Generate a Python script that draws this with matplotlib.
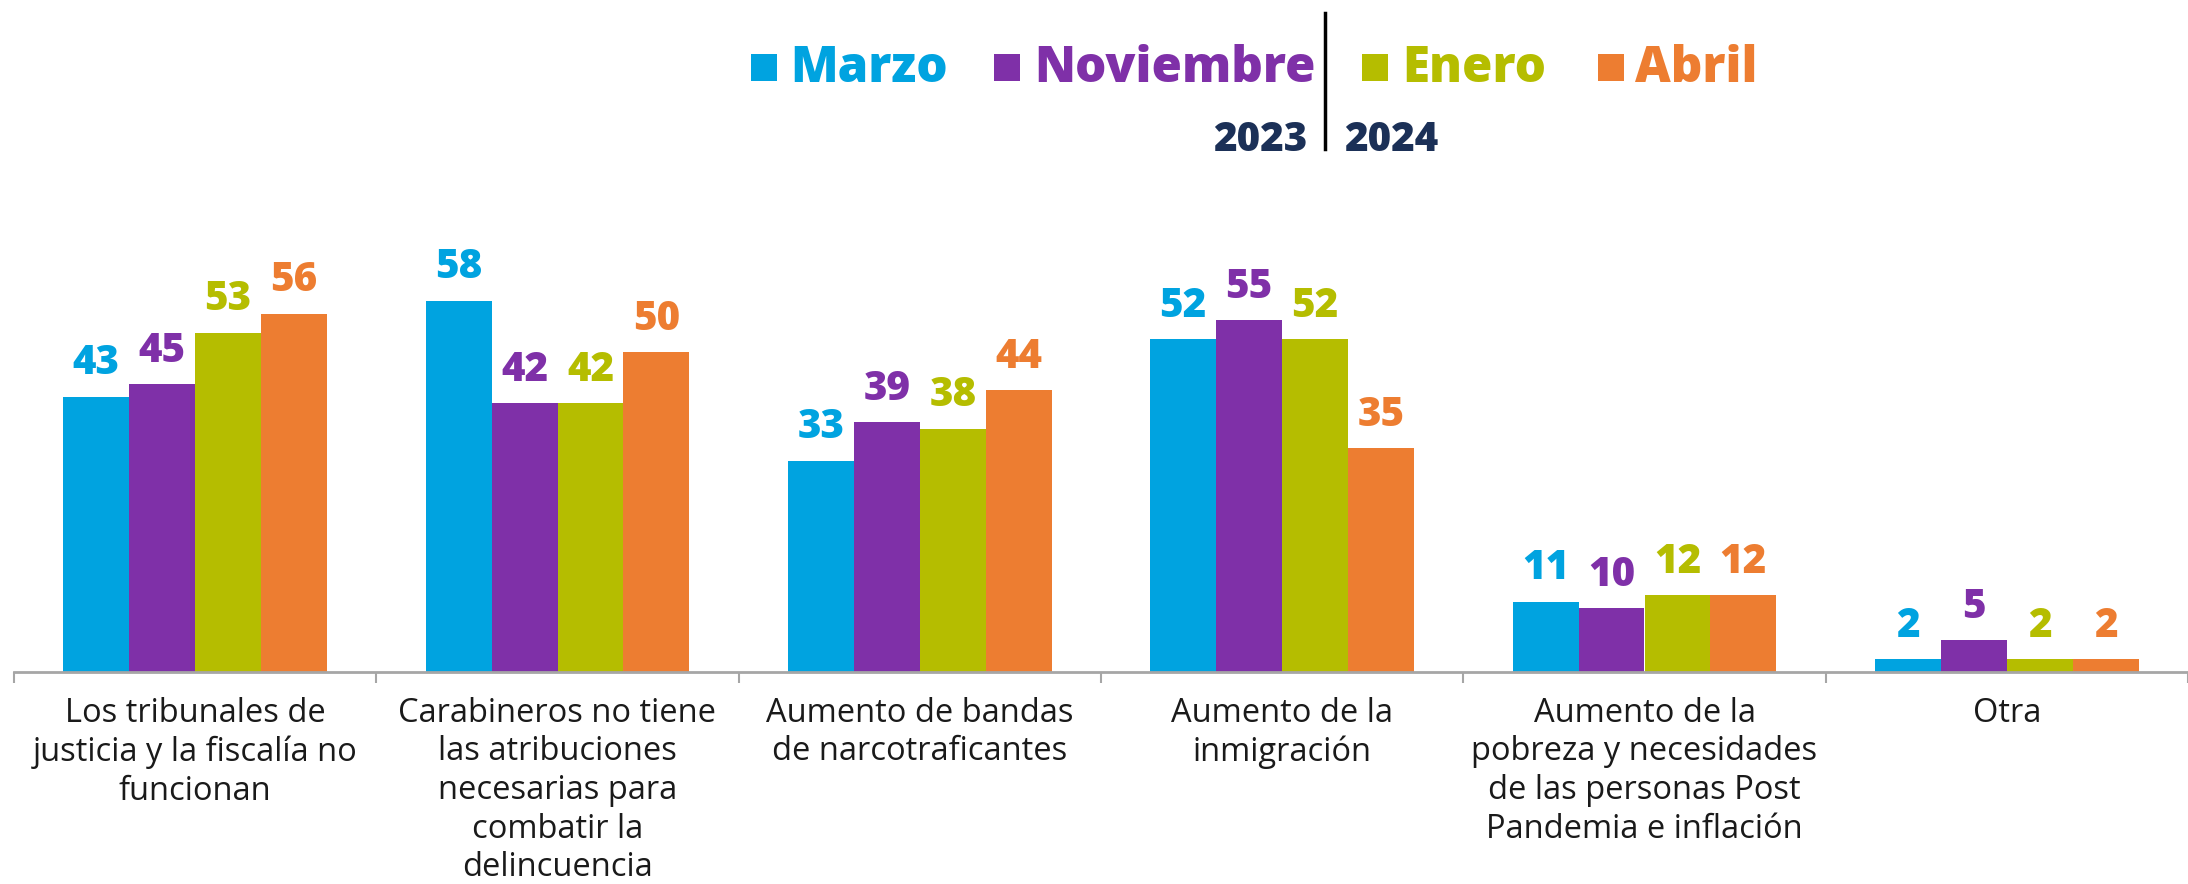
import matplotlib
matplotlib.use("Agg")
import matplotlib.pyplot as plt
from matplotlib.patches import Rectangle
import numpy as np

categories = [
    "Los tribunales de\njusticia y la fiscalía no\nfuncionan",
    "Carabineros no tiene\nlas atribuciones\nnecesarias para\ncombatir la\ndelincuencia",
    "Aumento de bandas\nde narcotraficantes",
    "Aumento de la\ninmigración",
    "Aumento de la\npobreza y necesidades\nde las personas Post\nPandemia e inflación",
    "Otra",
]
series_names = ["Marzo", "Noviembre", "Enero", "Abril"]
marzo = [43, 58, 33, 52, 11, 2]
noviembre = [45, 42, 39, 55, 10, 5]
enero = [53, 42, 38, 52, 12, 2]
abril = [56, 50, 44, 35, 12, 2]
colors = ["#00A3E0", "#7F30A8", "#B5BD00", "#ED7D31"]
year_labels = ["2023", "2024"]

plt.rcParams['font.family'] = ["Open Sans", "DejaVu Sans"]

W, H = 2188, 884
fig = plt.figure(figsize=(W / 100, H / 100), dpi=100)

# axes: baseline at y=672px, first group boundary at x=14px, 365px per group
ax = fig.add_axes([14 / W, 1 - 672 / H, 1 - 14 / W, 472 / H])
ax.set_xlim(-0.5, -0.5 + (W - 14) / 365)
ax.set_ylim(0, 472 / 6.4)

x = np.arange(len(categories))
bw = 0.182
all_series = [marzo, noviembre, enero, abril]
for i, vals in enumerate(all_series):
    pos = x + (i - 1.5) * bw
    bars = ax.bar(pos, vals, width=bw, color=colors[i], linewidth=0)
    for b, v in zip(bars, vals):
        ax.annotate(str(v), (b.get_x() + b.get_width() / 2, v),
                    xytext=(0, 9), textcoords="offset points",
                    ha="center", va="bottom", fontsize=29,
                    fontweight="heavy", color=colors[i])

for s in ["top", "right", "left"]:
    ax.spines[s].set_visible(False)
ax.spines["bottom"].set_color("#A6A6A6")
ax.spines["bottom"].set_linewidth(2)
ax.set_yticks([])

ax.set_xticks(x)
ax.set_xticklabels(categories, fontsize=23.5, color="#1a1a1a", linespacing=1.22)
ax.tick_params(axis="x", which="major", length=0, pad=18)
ax.set_xticks(np.arange(-0.5, 6, 1), minor=True)
ax.tick_params(axis="x", which="minor", length=8, width=1.5, color="#A6A6A6")

# custom legend
leg = [(751, 790, "Marzo"), (994, 1034, "Noviembre"),
       (1362, 1402, "Enero"), (1598, 1635, "Abril")]
for (sx, tx, name), c in zip(leg, colors):
    fig.add_artist(Rectangle((sx / W, 1 - 81 / H), 26 / W, 27 / H,
                             transform=fig.transFigure, color=c, lw=0))
    fig.text(tx / W, 1 - 82 / H, name, fontsize=35.5, fontweight="heavy",
             color=c, ha="left", va="baseline")

fig.add_artist(plt.Line2D([1325 / W, 1325 / W], [1 - 13 / H, 1 - 149 / H],
                          transform=fig.transFigure, color="black", lw=2.5))
fig.text(1307 / W, 1 - 151 / H, year_labels[0], fontsize=29, fontweight="heavy",
         color="#1B3057", ha="right", va="baseline")
fig.text(1344 / W, 1 - 151 / H, year_labels[1], fontsize=29, fontweight="heavy",
         color="#1B3057", ha="left", va="baseline")

fig.savefig("out.png", dpi=100, facecolor="white")
